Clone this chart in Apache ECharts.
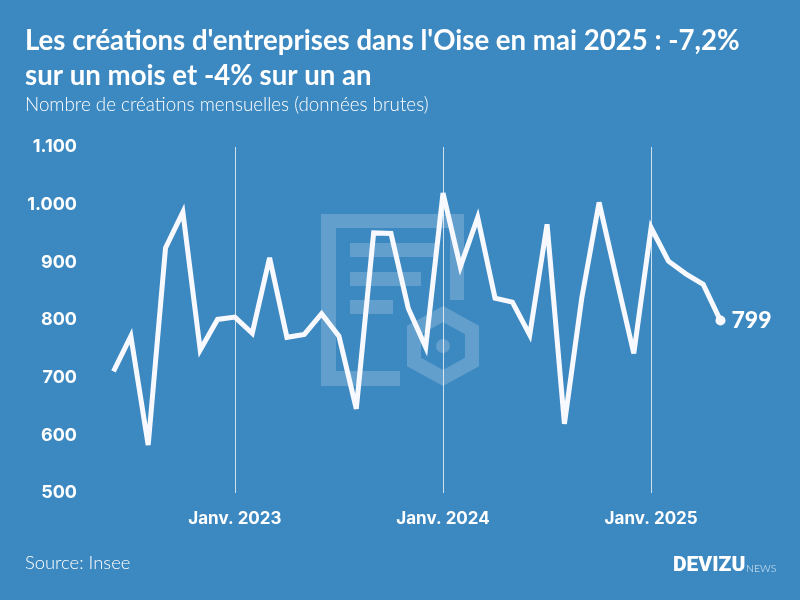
<!DOCTYPE html>
<html><head><meta charset="utf-8">
<style>html,body{margin:0;padding:0;background:#3c88c0}#c{width:800px;height:600px}</style>
<script src="https://cdn.jsdelivr.net/npm/echarts@6/dist/echarts.min.js"></script>
</head><body><div id="c"></div>
<script>
const months = [
 'Juin 2022','Juil. 2022','Août 2022','Sept. 2022','Oct. 2022','Nov. 2022','Déc. 2022',
 'Janv. 2023','Févr. 2023','Mars 2023','Avr. 2023','Mai 2023','Juin 2023','Juil. 2023','Août 2023','Sept. 2023','Oct. 2023','Nov. 2023','Déc. 2023',
 'Janv. 2024','Févr. 2024','Mars 2024','Avr. 2024','Mai 2024','Juin 2024','Juil. 2024','Août 2024','Sept. 2024','Oct. 2024','Nov. 2024','Déc. 2024',
 'Janv. 2025','Févr. 2025','Mars 2025','Avr. 2025','Mai 2025'];
const creations = [711,772,583,925,987,748,801,805,777,908,770,775,811,772,646,951,950,820,753,1020,892,978,838,831,774,966,620,838,1004,872,742,960,902,880,862,799];
const yTicks = [500,600,700,800,900,1000,1100];
const titleText = "Les créations d'entreprises dans l'Oise en mai 2025 : -7,2%\nsur un mois et -4% sur un an";
const subtitleText = "Nombre de créations mensuelles (données brutes)";
const sourceText = "Source: Insee";

const WM = 'rgba(255,255,255,0.2)';
const wmRect = (x,y,width,height)=>({type:'rect',z:-1,silent:true,shape:{x,y,width,height},style:{fill:WM}});
const chart = echarts.init(document.getElementById('c'));
const isJan = (i)=>months[i].startsWith('Janv.');
chart.setOption({
  animation:false,
  backgroundColor:'#3c88c0',
  title:[
    {text:titleText,left:25,top:24,padding:0,textStyle:{color:'#fff',fontFamily:'Lato',fontWeight:'bold',fontSize:27.6,lineHeight:35}},
    {text:subtitleText,left:25,top:95,padding:0,textStyle:{color:'#fff',fontFamily:'Lato',fontWeight:300,fontSize:18.8}},
    {text:sourceText,left:25,top:554,padding:0,textStyle:{color:'#fff',fontFamily:'Lato',fontWeight:300,fontSize:18.4}}
  ],
  grid:{left:113.5,right:79.5,top:147,bottom:107},
  xAxis:{type:'category',data:months,boundaryGap:false,
    axisLine:{show:false},axisTick:{show:false},
    axisLabel:{interval:(i)=>isJan(i),color:'#fff',fontFamily:'Inter',fontWeight:'bold',fontSize:17,margin:17},
    splitLine:{show:true,interval:(i)=>isJan(i),lineStyle:{color:'rgba(255,255,255,0.75)',width:1}}},
  yAxis:{type:'value',min:yTicks[0],max:yTicks[yTicks.length-1],interval:100,
    axisLine:{show:false},axisTick:{show:false},splitLine:{show:false},
    axisLabel:{color:'#fff',fontFamily:'Inter',fontWeight:'bold',fontSize:18,margin:36.5,padding:[3,0,0,0],
      formatter:(v)=>String(v).replace(/\B(?=(\d{3})+$)/g,'.')}},
  series:[{type:'line',data:creations.map((v,i)=>i===creations.length-1?{value:v,symbol:'circle',symbolSize:10,
      label:{show:true,position:'right',distance:6,formatter:'{c}',color:'#fff',fontFamily:'Lato',fontWeight:900,fontSize:23}}:v),
    showSymbol:true,symbol:'none',z:5,
    itemStyle:{color:'#f8f9ff'},
    lineStyle:{color:'#f8f9ff',width:5,join:'miter',miterLimit:4,cap:'butt'}}],
  graphic:[
    wmRect(321,214,143,14),wmRect(321,228,15,158),wmRect(336,371,64,15),wmRect(450,228,14,72),
    wmRect(350,243,87,14),wmRect(350,272,71,14),wmRect(350,300,43,14),
    {type:'polygon',z:-1,silent:true,shape:{points:[[443,314],[472,330],[472,362],[443,378],[414,362],[414,330]]},style:{fill:'none',stroke:WM,lineWidth:14}},
    {type:'circle',z:-1,silent:true,shape:{cx:443,cy:346,r:7},style:{fill:WM}},
    {type:'text',left:673,top:555,silent:true,style:{text:'DEVIZU',fill:'#fff',font:'900 21px "Roboto"'}},
    {type:'text',left:746,top:563,silent:true,style:{text:'NEWS',fill:'rgba(255,255,255,0.85)',font:'300 10.5px "Lato"'}}
  ]
});
</script></body></html>
